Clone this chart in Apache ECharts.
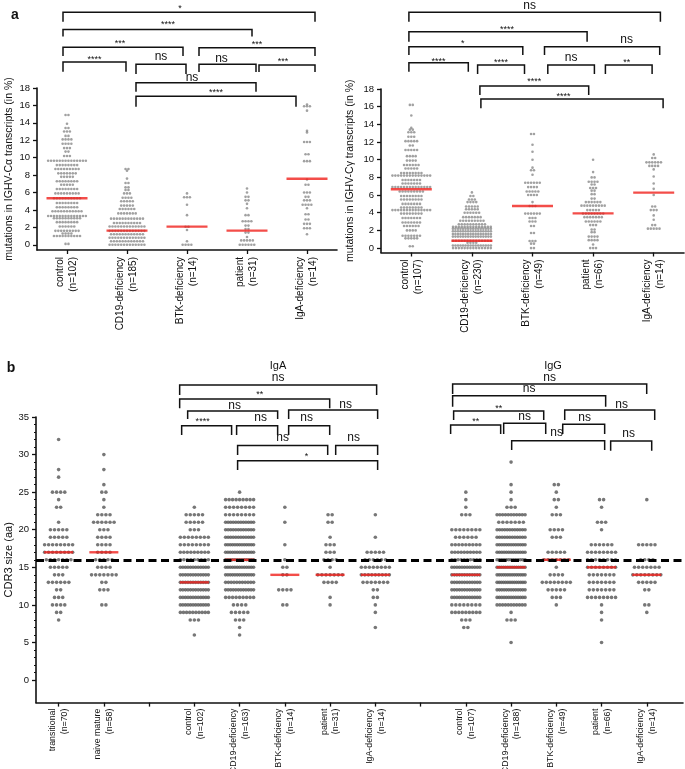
<!DOCTYPE html>
<html><head><meta charset="utf-8">
<script src="https://cdn.jsdelivr.net/npm/echarts@6/dist/echarts.min.js"></script>
<style>html,body{margin:0;padding:0;background:#fff}#c{width:685px;height:769px}</style>
</head><body><div id="c"></div>
<script>
// ---------------- DATA ----------------
const aIgACategories = ['control\n(n=102)', 'CD19-deficiency\n(n=185)', 'BTK-deficiency\n(n=14)', 'patient\n(n=31)', 'IgA-deficiency\n(n=14)'];
const aIgGCategories = ['control\n(n=107)', 'CD19-deficiency\n(n=230)', 'BTK-deficiency\n(n=49)', 'patient\n(n=66)', 'IgA-deficiency\n(n=14)'];
const bCategories = ['transitional\n(n=70)', 'naive mature\n(n=58)', '', 'control\n(n=102)', 'CD19-deficiency\n(n=163)', 'BTK-deficiency\n(n=14)', 'patient\n(n=31)', 'IgA-deficiency\n(n=14)', '', 'control\n(n=107)', 'CD19-deficiency\n(n=188)', 'BTK-deficiency\n(n=49)', 'patient\n(n=66)', 'IgA-deficiency\n(n=14)'];
const aYTicks = [0, 2, 4, 6, 8, 10, 12, 14, 16, 18];
const bYTicks = [0, 5, 10, 15, 20, 25, 30, 35];

// rows: [mutation frequency (%), number of dots at that level]
const aIgA_control = [[14.9,2],[13.9,1],[13.4,2],[13.0,3],[12.5,2],[12.1,4],[11.6,4],[11.1,3],[10.7,2],[10.2,3],[9.65,14],[9.15,8],[8.7,9],[8.2,7],[7.8,5],[7.3,8],[6.9,5],[6.4,8],[5.9,9],[5.35,10],[4.8,8],[4.3,8],[3.85,11],[3.3,14],[3.05,10],[2.6,8],[2.1,6],[1.6,9],[1.3,4],[1.0,10],[0.1,2]];
const aIgA_cd19 = [[8.7,2],[8.5,1],[7.6,1],[7.1,2],[6.6,2],[6.3,2],[5.9,3],[5.4,4],[5.0,5],[4.5,5],[4.1,6],[3.6,7],[3.0,12],[2.5,10],[2.1,13],[1.6,13],[1.2,12],[0.8,13],[0.4,12],[0.0,13]];
const aIgA_btk = [[5.9,1],[5.45,3],[4.6,1],[3.4,1],[2.07,2],[1.7,1],[0.4,1],[0.0,4]];
const aIgA_patient = [[6.46,1],[6.0,1],[5.5,2],[5.1,2],[4.7,1],[4.2,1],[3.4,2],[2.7,4],[2.2,2],[1.8,2],[1.4,2],[0.9,1],[0.5,5],[0.0,6]];
const aIgA_igad = [[16.1,1],[15.9,3],[15.4,1],[13.1,1],[12.9,1],[11.8,3],[10.4,2],[9.6,3],[7.5,1],[6.9,2],[6.0,3],[5.5,2],[5.1,3],[4.6,4],[4.2,1],[3.5,2],[2.9,2],[2.4,3],[1.9,3],[1.2,1]];
const aIgA_medians = [5.35, 1.62, 2.08, 1.62, 7.58];

const aIgG_control = [[16.2,2],[15.0,1],[13.6,1],[13.4,2],[13.1,3],[12.6,3],[12.1,5],[11.6,2],[11.1,5],[10.4,4],[9.9,4],[9.4,6],[9.0,5],[8.5,8],[8.2,14],[7.7,7],[7.3,7],[6.9,14],[6.4,9],[5.9,8],[5.5,8],[5.0,7],[4.6,8],[4.3,14],[3.9,8],[3.4,7],[2.9,7],[2.5,6],[2.0,4],[1.4,7],[1.1,5],[0.2,2]];
const aIgG_cd19 = [[6.3,1],[5.9,2],[5.5,3],[5.2,4],[4.7,5],[4.4,5],[4.0,6],[3.5,7],[3.1,9],[2.7,10],[2.4,14],[2.2,16],[1.9,16],[1.6,16],[1.3,16],[0.83,14],[0.6,4],[0.3,16],[0.0,14]];
const aIgG_btk = [[12.9,2],[11.7,1],[10.9,1],[10.0,1],[9.1,1],[8.8,2],[8.3,1],[7.4,6],[6.9,4],[6.4,5],[6.0,4],[5.2,1],[4.76,3],[3.9,6],[3.4,3],[3.0,3],[2.5,2],[1.7,2],[0.8,3],[0.5,2],[0.0,2]];
const aIgG_patient = [[10.0,1],[8.6,1],[8.0,2],[7.5,4],[7.2,2],[6.8,3],[6.5,2],[6.1,2],[5.6,2],[5.2,6],[4.8,9],[4.3,5],[3.9,8],[3.5,7],[3.0,6],[2.6,3],[2.1,2],[1.8,2],[1.3,4],[0.9,4],[0.4,1],[0.0,3]];
const aIgG_igad = [[10.6,1],[10.2,2],[9.7,6],[9.3,4],[8.9,1],[8.1,1],[7.3,1],[6.7,1],[6.0,1],[4.7,2],[4.3,3],[3.7,1],[3.2,1],[2.6,2],[2.2,5]];
const aIgG_medians = [6.65, 0.83, 4.76, 3.93, 6.27];

// rows: [CDR3 length (aa), number of sequences]
const bTransitional = [[32,1],[28,1],[27,1],[25,4],[24,1],[23,2],[21,1],[20,5],[19,5],[18,8],[17,8],[16,7],[15,5],[14,3],[13,6],[12,2],[11,3],[10,4],[9,2],[8,1]];
const bNaive = [[30,1],[28,1],[26,1],[25,2],[24,1],[23,1],[22,4],[21,6],[20,3],[19,4],[18,4],[17,4],[16,5],[15,4],[14,7],[13,2],[12,3],[10,2]];
const bIgA_control = [[23,1],[22,5],[21,5],[20,3],[19,8],[18,8],[17,9],[16,9],[15,12],[14,12],[13,12],[12,12],[11,12],[10,12],[9,10],[8,3],[6,1]];
const bIgA_cd19 = [[25,1],[24,9],[23,8],[22,8],[21,12],[20,12],[19,12],[18,13],[17,13],[16,13],[15,13],[14,13],[13,11],[12,12],[11,9],[10,4],[9,5],[8,3],[7,1],[6,1]];
const bIgA_btk = [[23,1],[21,1],[18,1],[16,1],[15,2],[14,2],[12,4],[10,2]];
const bIgA_patient = [[22,2],[21,2],[19,1],[18,3],[17,3],[16,4],[15,1],[14,7],[13,4],[11,1],[10,1]];
const bIgA_igad = [[22,1],[19,1],[17,5],[16,6],[15,8],[14,9],[13,7],[12,2],[11,2],[10,1],[9,1],[7,1]];
const bIgG_control = [[25,1],[24,1],[23,1],[22,3],[20,8],[19,6],[18,9],[17,10],[16,10],[15,12],[14,12],[13,12],[12,12],[11,12],[10,8],[9,9],[8,3],[7,2]];
const bIgG_cd19 = [[29,1],[26,1],[25,1],[24,1],[23,3],[22,11],[21,7],[20,12],[19,12],[18,13],[17,13],[16,13],[15,14],[14,14],[13,14],[12,13],[11,13],[10,11],[9,1],[8,3],[5,1]];
const bIgG_btk = [[26,2],[25,1],[24,2],[23,1],[22,3],[20,4],[19,3],[17,5],[16,7],[15,1],[14,4],[13,8],[12,5],[11,3],[10,1]];
const bIgG_patient = [[24,2],[23,1],[21,3],[20,1],[18,6],[17,8],[16,8],[15,8],[14,7],[13,7],[12,7],[11,8],[10,1],[9,1],[8,1],[5,1]];
const bIgG_igad = [[24,1],[18,5],[16,4],[15,7],[14,8],[13,5],[12,2],[10,2],[9,1]];
const bMedians = [17, 17, null, 13, 16, 14, 14, 14, null, 14, 15, 16, 15, 14];
const bThreshold = 16;

// significance comparisons: [group i, group j, label]
const aIgAComparisons = [[0,4,'*'],[0,3,'****'],[0,2,'***'],[2,4,'***'],[0,1,'****'],[1,2,'ns'],[2,3,'ns'],[3,4,'***'],[1,3,'ns'],[1,4,'****']];
const aIgGComparisons = [[0,4,'ns'],[0,3,'****'],[0,2,'*'],[2,4,'ns'],[0,1,'****'],[1,2,'****'],[2,3,'ns'],[3,4,'**'],[1,3,'****'],[1,4,'****']];
const bComparisons = [[3,7,'ns'],[3,6,'**'],[3,5,'ns'],[5,7,'ns'],[3,4,'****'],[4,5,'ns'],[5,6,'ns'],[4,6,'ns'],[6,7,'ns'],[4,7,'*'],
  [9,13,'ns'],[9,12,'ns'],[9,11,'**'],[11,13,'ns'],[9,10,'**'],[10,11,'ns'],[11,12,'ns'],[10,12,'ns'],[12,13,'ns']];

// ---------------- LAYOUT (annotation placement, px) ----------------
// [dx start, dx end, bar y, leg bottom y, label dx, label y]
const aIgABracketLayout = [[-4,8,12.3,21.7,-9,6.5],[-4,5,29.5,36.5,10.5,23],[-4,-4,47.3,56,-3,42],[12,8,47.7,56,0,43],[-4,-1,62,71.7,0,57.5],[9,-1,64.3,74,0,57],[12,9,64.3,72,-6,59],[12,8,65,72,-4,59.5],[9,9,82.7,91.7,-4,77.7],[9,-11,96.3,106.7,0,91]];
const aIgGBracketLayout = [[-2.4,6.7,12.3,21.7,-5,6],[-2.4,-6,31.7,41.7,9,27.3],[-2.4,-9.7,46.7,55,-3,41.7],[12,6,46.7,55,24.5,40],[-2.4,-3.6,62.7,71.7,0,59.3],[5.7,-8,65,74,0,60.7],[15.3,1.3,65,74,0,57.3],[12.3,-1.6,65,74,-2,60.7],[8,-4.4,86,95,0,80],[9,9.4,99,108.3,-8.5,95]];
const bBracketLayout = [[-14.7,1.3,385,395,0,377.5],[-14.7,-0.4,399,408.3,5,393],[-6.7,-7.2,411,419,2,405.7],[3.8,2.3,410,419,12.5,405],[-12.7,-8,425.7,435,-4,420],[-3,-7.2,425.7,435,3.5,418],[3.8,-0.4,425.7,435,-2.5,418],[-2,-2.4,445.5,455,0,438],[5.6,2.3,445.5,455,-3,438],[-2,2.3,460.7,470,-1,455],
  [-13.2,-0.1,384,394,0,377.5],[-13.2,4.1,395.7,406.7,0,389],[-12.2,-12.6,411,420,0,406.7],[8.4,7.9,410,420,12,405],[-15.2,-10.4,425,434,0,420],[-7.4,-10.6,423.3,434,0,417],[6.4,3.1,424.3,434,1,418],[0.6,3.1,440.7,450,-1.5,433],[9.1,4.9,441,450.7,-2.5,434]];

const FONT = "'Liberation Sans', Arial, Helvetica, sans-serif";
const INK = '#111';

// beeswarm: spread dots of one row horizontally around the group centre
function swarm(groups, stepPx, maxSpanPx, pxPerUnit) {
  const pts = [];
  groups.forEach((rows, gi) => {
    if (!rows) return;
    rows.forEach(([v, c]) => {
      const step = c > 1 ? Math.min(stepPx, maxSpanPx / (c - 1)) : 0;
      for (let k = 0; k < c; k++) pts.push([gi + (k - (c - 1) / 2) * step / pxPerUnit, v]);
    });
  });
  return pts;
}
function medianPts(arr) { return arr.map((m, i) => m == null ? null : [i, m]).filter(Boolean); }

const aIgADots = swarm([aIgA_control, aIgA_cd19, aIgA_btk, aIgA_patient, aIgA_igad], 2.9, 38, 60);
const aIgGDots = swarm([aIgG_control, aIgG_cd19, aIgG_btk, aIgG_patient, aIgG_igad], 2.9, 38, 60.6);
const bDots = swarm([bTransitional, bNaive, null, bIgA_control, bIgA_cd19, bIgA_btk, bIgA_patient, bIgA_igad, null, bIgG_control, bIgG_cd19, bIgG_btk, bIgG_patient, bIgG_igad], 4.1, 28, 45.24);

function xAxisCfg(gridIndex, min, max, labels, fontSize, margin) {
  const idx = labels.map((_, i) => i);
  return {
    type: 'value', gridIndex, min, max,
    axisLine: {show: true, onZero: false, lineStyle: {color: INK, width: 1.6}},
    axisTick: {show: true, customValues: idx, length: 4, lineStyle: {color: INK, width: 1.3}},
    axisLabel: {show: true, customValues: idx, rotate: 90, margin, fontSize, fontFamily: FONT, color: INK,
      lineHeight: fontSize + 3, formatter: v => labels[Math.round(v)] || ''},
    splitLine: {show: false}
  };
}
function yAxisCfg(gridIndex, min, max, ticks, name, nameGap, nameSize) {
  return {
    type: 'value', gridIndex, min, max, position: 'left',
    name, nameLocation: 'middle', nameGap, nameRotate: 90, nameMoveOverlap: false,
    nameTextStyle: {fontSize: nameSize, fontFamily: FONT, color: INK},
    axisLine: {show: true, onZero: false, lineStyle: {color: INK, width: 1.6}},
    axisTick: {show: true, customValues: ticks, length: 4, lineStyle: {color: INK, width: 1.3}},
    axisLabel: {show: true, customValues: ticks, margin: 7, fontSize: 9.5, fontFamily: FONT, color: INK},
    splitLine: {show: false}
  };
}
const minorTicks = [];
for (let v = 1; v < 35; v++) if (v % 5) minorTicks.push(v);

const chart = echarts.init(document.getElementById('c'), null, {renderer: 'canvas'});
const option = {
  backgroundColor: '#fff',
  animation: false,
  grid: [
    {left: 37, top: 88, width: 300, height: 162, outerBoundsMode: 'none'},
    {left: 381, top: 89, width: 303, height: 163.5, outerBoundsMode: 'none'},
    {left: 36, top: 417, width: 647, height: 285.6, outerBoundsMode: 'none'}
  ],
  xAxis: [
    xAxisCfg(0, -0.5, 4.5, aIgACategories, 10, 7),
    xAxisCfg(1, -0.5, 4.5, aIgGCategories, 10, 7),
    xAxisCfg(2, -0.5, 13.8, bCategories, 8.8, 6)
  ],
  yAxis: [
    yAxisCfg(0, -0.6, 18, aYTicks, 'mutations in IGHV-Cα transcripts (in %)', 22, 10.5),
    yAxisCfg(1, -0.5, 18, aYTicks, 'mutations in IGHV-Cγ transcripts (in %)', 25, 10.5),
    yAxisCfg(2, -3, 35, bYTicks, 'CDR3 size (aa)', 22, 11),
    {type: 'value', gridIndex: 2, min: -3, max: 35, position: 'left', axisLine: {show: false, onZero: false},
      axisTick: {show: true, customValues: minorTicks, length: 2, lineStyle: {color: INK, width: 1}},
      axisLabel: {show: false}, splitLine: {show: false}}
  ],
  series: [
    {type: 'scatter', xAxisIndex: 0, yAxisIndex: 0, data: aIgADots, symbolSize: 2.6, itemStyle: {color: '#8a8a8a'}, silent: true, z: 2},
    {type: 'scatter', xAxisIndex: 1, yAxisIndex: 1, data: aIgGDots, symbolSize: 2.6, itemStyle: {color: '#8a8a8a'}, silent: true, z: 2},
    {type: 'scatter', xAxisIndex: 2, yAxisIndex: 2, data: bDots, symbolSize: 3.6, itemStyle: {color: '#555'}, silent: true, z: 2},
    {type: 'scatter', xAxisIndex: 0, yAxisIndex: 0, data: medianPts(aIgA_medians), symbol: 'rect', symbolSize: [41, 2.4], itemStyle: {color: '#f0201c'}, silent: true, z: 3},
    {type: 'scatter', xAxisIndex: 1, yAxisIndex: 1, data: medianPts(aIgG_medians), symbol: 'rect', symbolSize: [41, 2.4], itemStyle: {color: '#f0201c'}, silent: true, z: 3},
    {type: 'scatter', xAxisIndex: 2, yAxisIndex: 2, data: medianPts(bMedians), symbol: 'rect', symbolSize: [29, 2.4], itemStyle: {color: '#f0201c'}, silent: true, z: 3},
    {type: 'line', xAxisIndex: 2, yAxisIndex: 2, data: [], z: 4, silent: true,
      markLine: {silent: true, symbol: 'none', label: {show: false}, animation: false,
        lineStyle: {color: '#000', width: 2.8, type: [8, 4.5]}, data: [{yAxis: bThreshold}]}}
  ]
};
chart.setOption(option);

// ---------------- annotations ----------------
const graphics = [];
function txt(text, x, y, size, weight) {
  graphics.push({type: 'text', silent: true, z: 10, style: {text, x, y, fill: INK, fontSize: size, fontFamily: FONT, fontWeight: weight || 'normal', align: 'center', verticalAlign: 'middle'}});
}
function brackets(axisIdx, comps, layout) {
  comps.forEach(([i, j, label], k) => {
    const [d1, d2, top, bot, ldx, ly] = layout[k];
    const x1 = chart.convertToPixel({xAxisIndex: axisIdx}, i) + d1;
    const x2 = chart.convertToPixel({xAxisIndex: axisIdx}, j) + d2;
    graphics.push({type: 'polyline', silent: true, z: 10, shape: {points: [[x1, bot], [x1, top], [x2, top], [x2, bot]]},
      style: {stroke: INK, lineWidth: 1.5, fill: null}});
    const star = label.indexOf('*') >= 0;
    txt(label, (x1 + x2) / 2 + ldx, ly + (star ? 2 : 0), star ? 9 : 12, 'normal');
  });
}
brackets(0, aIgAComparisons, aIgABracketLayout);
brackets(1, aIgGComparisons, aIgGBracketLayout);
brackets(2, bComparisons, bBracketLayout);
txt('a', 15, 15, 14, 'bold');
txt('b', 11, 368, 14, 'bold');
txt('IgA', 278, 366, 11);
txt('IgG', 553, 366, 11);
chart.setOption({graphic: graphics});
</script></body></html>
